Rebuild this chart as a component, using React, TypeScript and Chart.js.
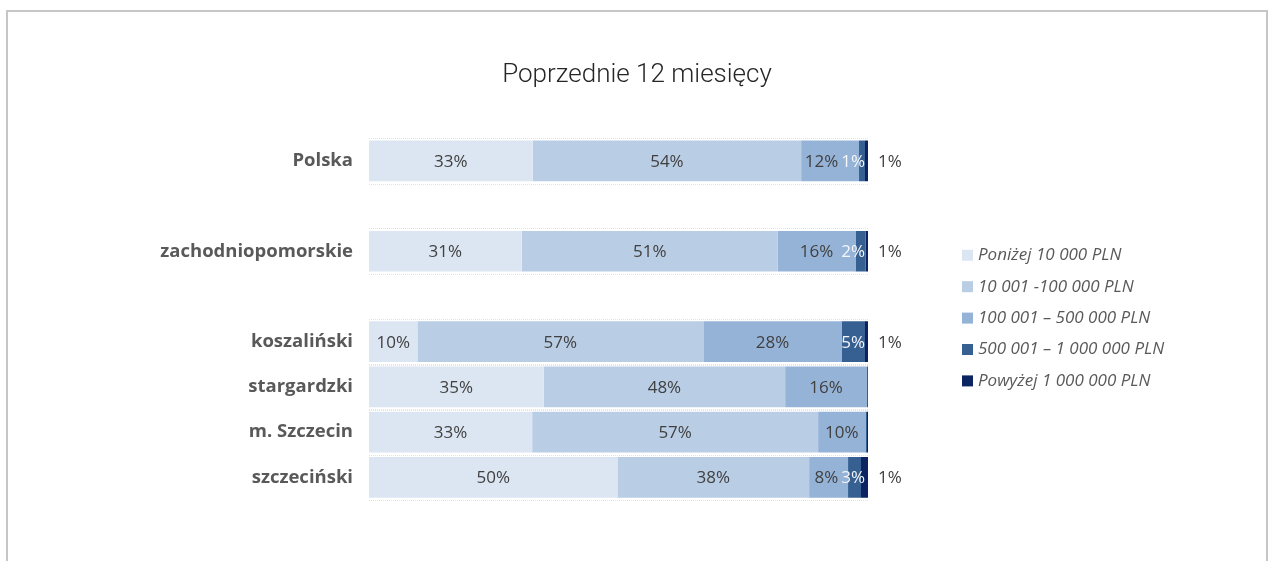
import React, { useEffect, useRef } from "react";
import { Chart, registerables } from "chart.js";

Chart.register(...registerables);

// ---------- data ----------
const categories = [
  "Polska",
  "",
  "zachodniopomorskie",
  "",
  "koszaliński",
  "stargardzki",
  "m. Szczecin",
  "szczeciński",
];
const seriesNames = [
  "Poniżej 10 000 PLN",
  "10 001 -100 000 PLN",
  "100 001 – 500 000 PLN",
  "500 001 – 1 000 000 PLN",
  "Powyżej 1 000 000 PLN",
];
const below10k = [32.8, null, 30.6, null, 9.7, 35.0, 32.7, 49.8];
const from10kTo100k = [53.8, null, 51.3, null, 57.3, 48.4, 57.3, 38.4];
const from100kTo500k = [11.6, null, 15.6, null, 27.7, 16.4, 9.5, 7.8];
const from500kTo1m = [1.2, null, 2.0, null, 4.7, 0.2, 0.3, 2.6];
const above1m = [0.6, null, 0.5, null, 0.6, 0, 0.2, 1.4];
const titleText = "Poprzednie 12 miesięcy";

// ---------- styles ----------
const seriesColors = ["#dce6f2", "#b9cde5", "#95b3d7", "#376092", "#0c2461"];
const labelColors = ["#404040", "#404040", "#404040", "#f4f6fa", "#404040"];
const FONT = '"Open Sans", "DejaVu Sans", sans-serif';

const guideLinesPlugin = {
  id: "guideLines",
  beforeDatasetsDraw(chart: any) {
    const ctx = chart.ctx;
    const meta = chart.getDatasetMeta(0);
    const area = chart.chartArea;
    ctx.save();
    ctx.strokeStyle = "#e3e3e3";
    ctx.lineWidth = 1;
    ctx.setLineDash([1, 1]);
    meta.data.forEach((el: any, i: number) => {
      if (chart.data.datasets[0].data[i] == null) return;
      const h = el.height;
      [el.y - h / 2 - 2.5, el.y + h / 2 + 2.5].forEach((yy) => {
        ctx.beginPath();
        ctx.moveTo(area.left, Math.round(yy) + 0.5);
        ctx.lineTo(area.right, Math.round(yy) + 0.5);
        ctx.stroke();
      });
    });
    ctx.restore();
  },
};

const segLabelsPlugin = {
  id: "segLabels",
  afterDatasetsDraw(chart: any) {
    const ctx = chart.ctx;
    const ds = chart.data.datasets;
    const nSeries = ds.length;
    const n = chart.data.labels.length;
    ctx.save();
    ctx.font = `17px ${FONT}`;
    ctx.textBaseline = "middle";
    for (let i = 0; i < n; i++) {
      if (ds[0].data[i] == null) continue;
      const lastEl = chart.getDatasetMeta(nSeries - 1).data[i];
      const barEnd = Math.max(lastEl.x, lastEl.base);
      const y = lastEl.y;
      // outside label for the last series
      const lastVal = ds[nSeries - 1].data[i];
      if (lastVal != null && lastVal >= 0.5) {
        ctx.fillStyle = labelColors[nSeries - 1];
        ctx.textAlign = "left";
        ctx.fillText(Math.round(lastVal) + "%", barEnd + 10, y + 1);
      }
      let maxRight = barEnd - 3;
      for (let d = nSeries - 2; d >= 0; d--) {
        const v = ds[d].data[i];
        if (v == null || v < 0.5) continue;
        const el = chart.getDatasetMeta(d).data[i];
        const txt = Math.round(v) + "%";
        const w = ctx.measureText(txt).width;
        const center = (el.x + el.base) / 2;
        const c = Math.min(center, maxRight - w / 2);
        ctx.fillStyle = labelColors[d];
        ctx.textAlign = "center";
        ctx.fillText(txt, c, y + 1);
        maxRight = c - w / 2 - 3;
      }
    }
    ctx.restore();
  },
};

const legendPlugin = {
  id: "customLegend",
  afterDraw(chart: any) {
    const ctx = chart.ctx;
    const area = chart.chartArea;
    const x0 = area.right + 94;
    const step = 31.4;
    const count = chart.data.datasets.length;
    const midY = (area.top + area.bottom) / 2 - 1;
    const y0 = midY - (step * (count - 1)) / 2;
    ctx.save();
    ctx.font = `italic 17px ${FONT}`;
    ctx.textBaseline = "middle";
    ctx.textAlign = "left";
    chart.data.datasets.forEach((d: any, k: number) => {
      const yc = y0 + k * step;
      ctx.fillStyle = d.backgroundColor;
      ctx.fillRect(x0, yc - 5.5, 11, 11);
      ctx.fillStyle = "#595959";
      ctx.fillText(d.label, x0 + 16, yc);
    });
    ctx.restore();
  },
};

export default function App() {
  const canvasRef = useRef<HTMLCanvasElement | null>(null);

  useEffect(() => {
    if (!canvasRef.current) return;
    const seriesData = [below10k, from10kTo100k, from100kTo500k, from500kTo1m, above1m];
    const chart = new Chart(canvasRef.current, {
      type: "bar",
      data: {
        labels: categories,
        datasets: seriesData.map((data, k) => ({
          label: seriesNames[k],
          data: data as any,
          backgroundColor: seriesColors[k],
          borderWidth: 0,
          barPercentage: 0.9,
          categoryPercentage: 1,
          xAxisID: "x",
          yAxisID: "y",
        })),
      },
      options: {
        indexAxis: "y",
        animation: false,
        responsive: true,
        maintainAspectRatio: false,
        layout: { padding: { top: 0, bottom: 61, left: 0, right: 0 } },
        plugins: {
          legend: { display: false },
          tooltip: { enabled: false },
          title: {
            display: true,
            text: titleText,
            color: "#262626",
            font: { family: "Roboto, " + FONT, size: 26, weight: "300" as any },
            padding: { top: 48, bottom: 47 },
          },
        },
        scales: {
          x: {
            type: "linear",
            stacked: true,
            min: 0,
            max: 100,
            display: false,
          },
          y: {
            type: "category",
            stacked: true,
            position: "left",
            grid: { display: false, drawTicks: false },
            border: { display: false },
            ticks: {
              color: "#595959",
              padding: 16,
              font: { family: FONT, size: 18.5, weight: "bold" },
            },
            afterFit(scale: any) {
              scale.width = 361;
            },
          },
          yRight: {
            type: "linear",
            position: "right",
            display: true,
            grid: { display: false, drawTicks: false },
            border: { display: false },
            ticks: { display: false },
            afterFit(scale: any) {
              scale.width = 398;
            },
          },
        },
      },
      plugins: [guideLinesPlugin, segLabelsPlugin, legendPlugin],
    });
    return () => chart.destroy();
  }, []);

  return (
    <div
      style={{
        position: "absolute",
        left: 6,
        top: 10,
        width: 1262,
        height: 551,
        boxSizing: "border-box",
        borderTop: "2px solid #c6c6c6",
        borderLeft: "2px solid #c6c6c6",
        borderRight: "2px solid #c6c6c6",
        background: "#ffffff",
      }}
    >
      <div style={{ position: "relative", width: 1258, height: 549 }}>
        <canvas ref={canvasRef} />
      </div>
    </div>
  );
}
